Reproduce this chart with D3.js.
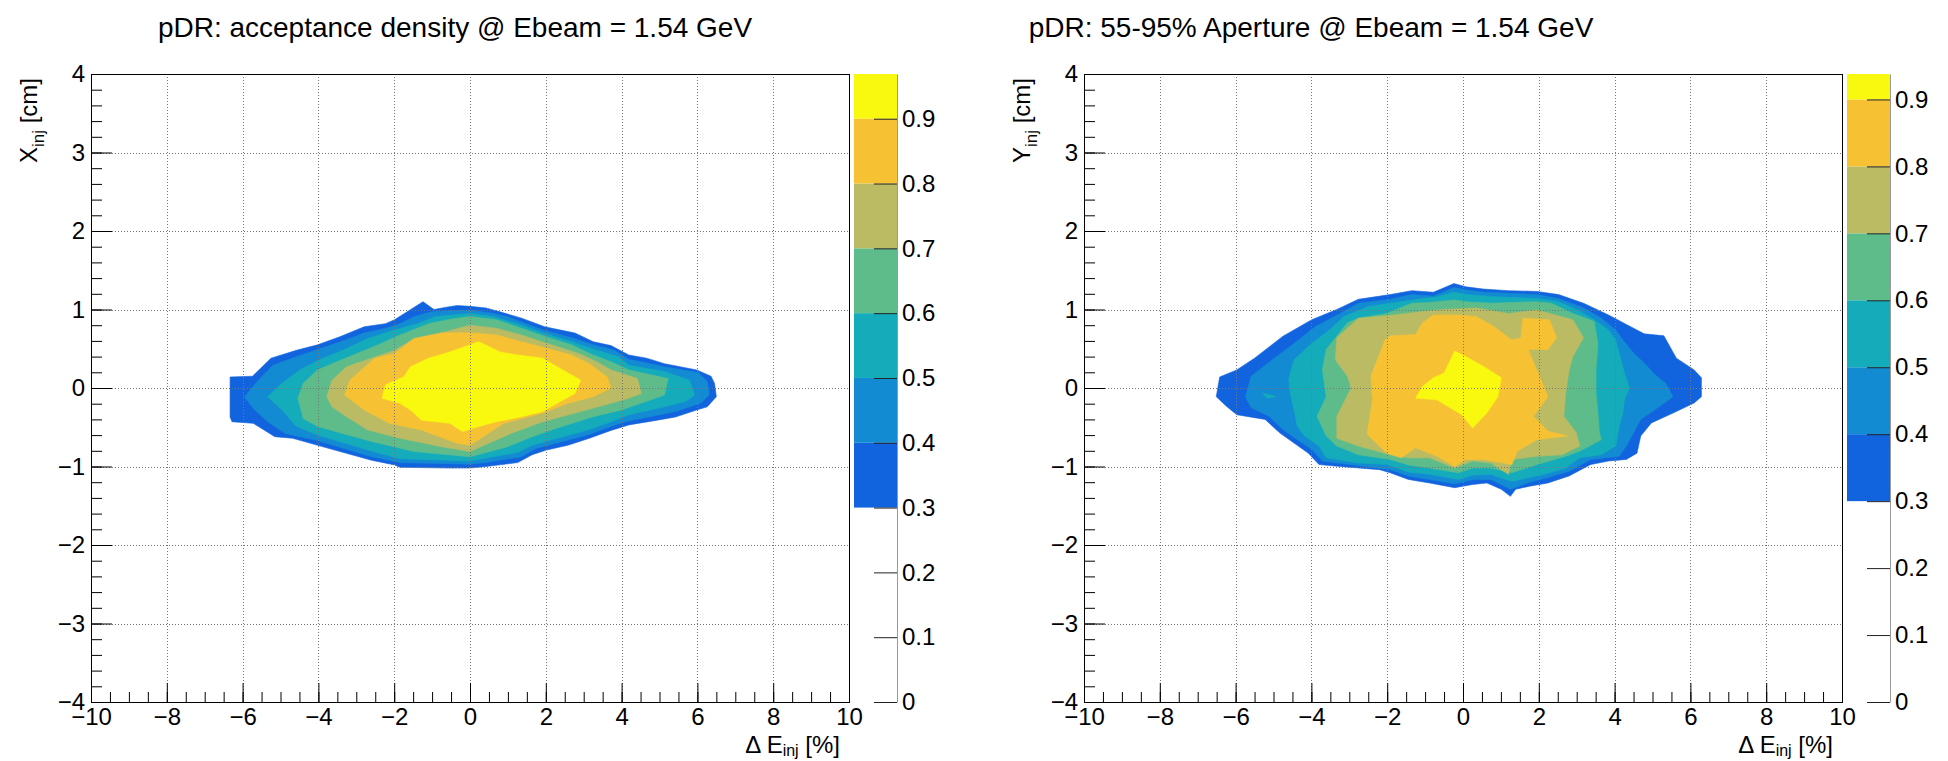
<!DOCTYPE html>
<html><head><meta charset="utf-8">
<script src="https://cdn.jsdelivr.net/npm/d3@7"></script>
<style>
body{margin:0;background:#fff;}
svg{display:block;font-family:"Liberation Sans",Arial,sans-serif;}
</style></head><body>
<svg id="c" width="1948" height="761"></svg>
<script>
// ---------- data ----------
const levels = [0.3, 0.4, 0.5, 0.6, 0.7, 0.8, 0.9];
const levelColors = ["#1163de", "#128bd2", "#14acba", "#5ebc8b", "#babb63", "#f6c234", "#f9f90f"];
const xTicks = [-10, -8, -6, -4, -2, 0, 2, 4, 6, 8, 10];
const yTicks = [-4, -3, -2, -1, 0, 1, 2, 3, 4];
const zTicks = [0, 0.1, 0.2, 0.3, 0.4, 0.5, 0.6, 0.7, 0.8, 0.9];
const zMaxAcc = 0.969;
const zMaxApe = 0.938;
const titles = ["pDR: acceptance density @ Ebeam = 1.54 GeV", "pDR: 55-95% Aperture @ Ebeam = 1.54 GeV"];
const yTitleMain = ["X", "Y"];

// contour outlines (Δ E [%], position [cm]) for each level, acceptance density
const accL03 = [[-6.33,0.14],[-5.74,0.15],[-5.25,0.38],[-4.58,0.48],[-4.02,0.55],[-3.45,0.65],[-2.79,0.78],[-2.23,0.82],[-1.99,0.87],[-1.66,0.97],[-1.24,1.10],[-0.95,1.00],[-0.62,1.03],[-0.34,1.05],[0,1.04],[0.42,1.02],[0.79,0.97],[1.36,0.89],[1.97,0.78],[2.77,0.70],[3.25,0.59],[3.72,0.54],[4.19,0.42],[4.66,0.38],[5.13,0.31],[5.98,0.23],[6.36,0.15],[6.45,0.06],[6.50,-0.11],[6.26,-0.24],[5.98,-0.28],[5.42,-0.37],[4.94,-0.41],[4.19,-0.47],[3.72,-0.54],[3.15,-0.64],[2.58,-0.73],[2.02,-0.79],[1.64,-0.85],[1.26,-0.95],[0.42,-1.0],[0,-1.02],[-0.53,-1.02],[-1.85,-1.01],[-1.99,-0.98],[-2.60,-0.92],[-4.02,-0.73],[-4.68,-0.64],[-5.15,-0.62],[-5.72,-0.45],[-6.28,-0.43],[-6.33,-0.37]];
const accL04 = [[-5.95,-0.11],[-5.62,0.08],[-5.20,0.29],[-4.63,0.39],[-4.02,0.49],[-3.41,0.59],[-2.79,0.70],[-2.23,0.76],[-1.85,0.82],[-1.47,0.91],[-1.0,0.97],[-0.53,0.985],[0,0.99],[0.51,0.96],[0.98,0.91],[1.92,0.74],[2.68,0.64],[3.25,0.55],[3.81,0.48],[4.19,0.365],[5.13,0.27],[6.03,0.195],[6.26,0.08],[6.31,-0.09],[6.08,-0.195],[5.42,-0.30],[4.75,-0.365],[4.09,-0.43],[3.72,-0.49],[3.15,-0.59],[2.30,-0.70],[1.74,-0.77],[1.36,-0.875],[0.42,-0.95],[0,-0.97],[-1.85,-0.95],[-2.60,-0.875],[-4.02,-0.67],[-4.87,-0.58],[-5.34,-0.43],[-5.72,-0.26]];
const accL05 = [[-5.34,-0.11],[-4.96,0.06],[-4.49,0.23],[-3.97,0.36],[-3.36,0.48],[-2.70,0.63],[-1.99,0.74],[-1.38,0.82],[-0.91,0.91],[0,0.95],[0.60,0.91],[1.36,0.80],[1.92,0.70],[2.68,0.59],[3.34,0.48],[3.91,0.40],[4.19,0.29],[5.13,0.21],[5.79,0.10],[5.93,-0.09],[5.70,-0.17],[5.13,-0.24],[4.19,-0.34],[3.72,-0.43],[3.15,-0.53],[2.30,-0.64],[1.64,-0.73],[1.26,-0.82],[0,-0.93],[-1.85,-0.90],[-2.70,-0.79],[-4.02,-0.60],[-4.58,-0.49],[-4.96,-0.28]];
const accL06 = [[-4.54,-0.13],[-4.40,0.06],[-4.02,0.23],[-3.64,0.31],[-3.08,0.42],[-2.42,0.55],[-1.85,0.675],[-1.09,0.82],[-0.53,0.875],[0,0.91],[0.70,0.87],[1.36,0.76],[2.02,0.65],[2.68,0.55],[3.25,0.42],[3.72,0.335],[4.19,0.23],[5.23,0.12],[5.13,-0.09],[4.66,-0.17],[4.0,-0.28],[3.25,-0.365],[2.30,-0.51],[1.64,-0.62],[0.98,-0.75],[0,-0.875],[-1.47,-0.81],[-2.60,-0.68],[-3.36,-0.58],[-4.02,-0.49],[-4.40,-0.39]];
const accL07 = [[-3.78,-0.11],[-3.64,0.10],[-3.26,0.27],[-2.60,0.38],[-1.99,0.48],[-1.47,0.63],[-0.62,0.72],[0,0.80],[0.70,0.76],[1.36,0.675],[2.02,0.57],[2.87,0.44],[3.34,0.335],[3.72,0.23],[4.42,0.12],[4.52,-0.07],[4.19,-0.13],[3.53,-0.22],[2.77,-0.32],[1.92,-0.43],[1.08,-0.58],[0,-0.81],[-0.72,-0.75],[-1.85,-0.64],[-2.70,-0.535],[-3.26,-0.365],[-3.64,-0.24]];
const accL08 = [[-3.31,-0.09],[-3.17,0.10],[-2.51,0.38],[-1.99,0.44],[-1.47,0.63],[-0.72,0.70],[0,0.705],[0.70,0.675],[1.36,0.59],[2.02,0.505],[2.68,0.42],[3.15,0.31],[3.62,0.14],[3.72,0.0],[3.25,-0.11],[2.58,-0.195],[1.92,-0.32],[0.89,-0.45],[0,-0.73],[-0.34,-0.705],[-1.28,-0.535],[-2.13,-0.45],[-2.79,-0.28]];
const accL09 = [[-2.32,-0.13],[-2.23,0.04],[-1.75,0.14],[-1.57,0.27],[-1.09,0.38],[-0.53,0.46],[0,0.55],[0.23,0.59],[0.79,0.46],[1.26,0.42],[1.92,0.38],[2.30,0.27],[2.92,0.10],[2.77,-0.07],[2.30,-0.195],[1.92,-0.30],[1.36,-0.365],[0.70,-0.43],[0.23,-0.49],[-0.20,-0.555],[-0.53,-0.45],[-1.28,-0.41],[-1.57,-0.28],[-1.85,-0.195]];

// contour outlines for each level, 55-95% aperture
const apeL03 = [[-6.51,-0.11],[-6.42,0.14],[-5.97,0.23],[-5.50,0.38],[-4.75,0.66],[-3.99,0.87],[-3.33,1.0],[-2.76,1.13],[-1.92,1.19],[-1.35,1.24],[-0.78,1.22],[-0.24,1.33],[0.07,1.29],[0.54,1.26],[1.20,1.24],[1.95,1.23],[2.52,1.19],[3.18,1.08],[3.84,0.93],[4.31,0.81],[4.78,0.69],[5.30,0.665],[5.63,0.38],[6.10,0.23],[6.29,0.13],[6.29,-0.11],[6.10,-0.19],[5.54,-0.32],[4.97,-0.445],[4.69,-0.61],[4.59,-0.83],[4.31,-0.91],[3.84,-0.93],[3.37,-0.975],[2.80,-1.12],[2.24,-1.21],[1.76,-1.25],[1.39,-1.29],[1.25,-1.38],[1.01,-1.29],[0.63,-1.21],[0.25,-1.23],[-0.22,-1.27],[-0.88,-1.21],[-1.44,-1.165],[-1.92,-1.08],[-2.20,-1.04],[-3.24,-1.0],[-3.80,-0.975],[-4.08,-0.83],[-4.46,-0.70],[-4.84,-0.57],[-5.22,-0.40],[-5.97,-0.34],[-6.25,-0.23]];
const apeL04 = [[-5.74,-0.11],[-5.59,0.15],[-5.03,0.36],[-4.56,0.53],[-3.90,0.78],[-3.24,0.95],[-2.76,1.08],[-1.92,1.13],[-1.35,1.19],[-0.78,1.17],[-0.24,1.28],[0.07,1.25],[0.54,1.22],[1.95,1.19],[2.52,1.14],[3.18,1.02],[3.65,0.89],[4.03,0.74],[4.22,0.61],[4.50,0.445],[4.78,0.32],[5.07,0.17],[5.35,0.06],[5.54,-0.11],[5.07,-0.275],[4.69,-0.40],[4.50,-0.57],[4.31,-0.74],[4.12,-0.87],[3.37,-0.91],[2.80,-1.06],[2.24,-1.14],[1.76,-1.20],[1.25,-1.29],[0.73,-1.165],[0.25,-1.17],[-0.22,-1.22],[-0.88,-1.165],[-1.44,-1.12],[-1.92,-1.04],[-3.24,-0.96],[-3.71,-0.93],[-3.99,-0.78],[-4.37,-0.66],[-4.75,-0.53],[-5.12,-0.36],[-5.59,-0.25]];
const apeL05 = [[-4.60,0.105],[-4.46,0.36],[-3.99,0.57],[-3.52,0.74],[-3.14,0.91],[-2.48,1.04],[-1.92,1.08],[-1.35,1.12],[-0.69,1.16],[-0.24,1.22],[0.07,1.19],[0.73,1.165],[1.95,1.14],[2.52,1.10],[2.99,1.0],[3.46,0.87],[3.84,0.74],[4.03,0.61],[4.12,0.445],[4.26,0.19],[4.39,0.0],[4.26,-0.15],[4.22,-0.32],[4.12,-0.49],[4.03,-0.74],[3.65,-0.85],[3.08,-0.89],[2.71,-1.02],[2.14,-1.10],[1.29,-1.19],[0.73,-1.10],[0.25,-1.11],[-0.12,-1.165],[-0.88,-1.10],[-1.44,-1.07],[-2.01,-0.975],[-2.76,-0.955],[-3.61,-0.89],[-3.80,-0.74],[-4.18,-0.61],[-4.37,-0.49],[-4.46,-0.275],[-4.56,-0.065]];
const apeL05b = [[-5.29,-0.065],[-4.93,-0.11],[-5.17,-0.13]];
const apeL06 = [[-3.71,0.23],[-3.61,0.49],[-3.33,0.66],[-3.05,0.83],[-2.76,0.89],[-2.01,0.95],[-1.35,1.08],[-0.88,1.09],[-0.24,1.12],[0.07,1.10],[0.73,1.08],[1.95,1.10],[2.33,1.08],[2.90,0.95],[3.46,0.85],[3.56,0.57],[3.51,0.23],[3.51,-0.065],[3.56,-0.32],[3.60,-0.57],[3.65,-0.66],[3.08,-0.805],[2.71,-0.87],[1.95,-0.975],[1.29,-1.08],[0.73,-1.02],[0.25,-1.02],[-0.12,-1.08],[-0.88,-1.02],[-1.44,-0.98],[-1.92,-0.91],[-2.76,-0.85],[-3.33,-0.74],[-3.61,-0.61],[-3.85,-0.36],[-3.61,-0.11]];
const apeL07 = [[-3.33,0.64],[-2.76,0.89],[-2.01,0.92],[-1.07,0.975],[-0.50,1.0],[0.35,1.02],[1.20,0.95],[1.95,0.995],[2.90,0.87],[3.18,0.64],[2.90,0.40],[2.80,0.23],[2.71,-0.065],[2.66,-0.36],[2.99,-0.57],[3.08,-0.74],[2.61,-0.85],[1.95,-0.87],[1.29,-0.91],[1.20,-1.10],[0.73,-0.955],[0.25,-0.93],[-0.22,-1.02],[-0.88,-0.89],[-1.44,-0.89],[-1.92,-0.85],[-2.76,-0.74],[-3.33,-0.64],[-3.33,-0.36],[-2.95,0.0],[-3.05,0.15],[-3.37,0.36]];
const apeL08 = [[-2.06,0.61],[-2.43,0.15],[-2.39,-0.15],[-2.53,-0.59],[-2.01,-0.83],[-1.63,-0.89],[-1.25,-0.76],[-0.69,-0.87],[-0.22,-1.0],[0.07,-0.91],[0.54,-0.91],[1.29,-0.975],[1.43,-0.805],[1.95,-0.66],[2.75,-0.61],[2.24,-0.55],[1.86,-0.36],[2.24,-0.11],[1.95,0.23],[1.72,0.49],[2.24,0.49],[2.47,0.64],[2.28,0.87],[1.58,0.89],[1.53,0.64],[1.29,0.61],[0.82,0.78],[0.35,0.91],[-0.12,0.93],[-0.78,0.93],[-1.07,0.83],[-1.25,0.68],[-1.92,0.665]];
const apeL09 = [[-0.22,0.47],[0.07,0.40],[0.54,0.275],[1.01,0.13],[0.92,-0.11],[0.63,-0.32],[0.25,-0.51],[-0.03,-0.34],[-0.69,-0.15],[-1.25,-0.13],[-1.07,0.02],[-0.78,0.13],[-0.50,0.19]];

const accContours = [[accL03], [accL04], [accL05], [accL06], [accL07], [accL08], [accL09]];
const apeContours = [[apeL03], [apeL04], [apeL05, apeL05b], [apeL06], [apeL07], [apeL08], [apeL09]];

// ---------- drawing ----------
const svg = d3.select("#c");
const fmtAxis = d => d < 0 ? "\u2212" + Math.abs(d) : String(d);
const fmtZ = d => d === 0 ? "0" : d.toFixed(1);

const panels = [
  {left: 91, right: 849, cbL: 854, cbR: 897, titleX: 455, yTitleX: 37, contours: accContours, zMax: zMaxAcc, title: titles[0], yMain: yTitleMain[0]},
  {left: 1084, right: 1842, cbL: 1847, cbR: 1890, titleX: 1311, yTitleX: 1030, contours: apeContours, zMax: zMaxApe, title: titles[1], yMain: yTitleMain[1]}
];
const frameTop = 74, frameBottom = 702;

panels.forEach(p => {
  const x = d3.scaleLinear().domain([-10, 10]).range([p.left, p.right]);
  const y = d3.scaleLinear().domain([-4, 4]).range([frameBottom, frameTop]);
  const z = d3.scaleLinear().domain([0, p.zMax]).range([frameBottom, frameTop]);
  const g = svg.append("g");

  // contours
  const line = d3.line().x(d => x(d[0])).y(d => y(d[1])).curve(d3.curveLinearClosed);
  p.contours.forEach((polys, i) => {
    polys.forEach(poly => {
      g.append("path").attr("d", line(poly)).attr("fill", levelColors[i])
        .attr("stroke", levelColors[i]).attr("stroke-width", 0.6);
    });
  });

  // grid
  const grid = g.append("g").attr("stroke", "#777").attr("stroke-width", 1).attr("stroke-dasharray", "1,2");
  xTicks.filter(t => t > -10 && t < 10).forEach(t => {
    grid.append("line").attr("x1", Math.round(x(t)) + 0.5).attr("x2", Math.round(x(t)) + 0.5).attr("y1", frameTop).attr("y2", frameBottom);
  });
  yTicks.filter(t => t > -4 && t < 4).forEach(t => {
    grid.append("line").attr("y1", Math.round(y(t)) + 0.5).attr("y2", Math.round(y(t)) + 0.5).attr("x1", p.left).attr("x2", p.right);
  });

  // x axis minor + major
  const xa = g.append("g").attr("transform", `translate(0,${frameBottom})`);
  xa.append("g").call(d3.axisBottom(x).tickValues(d3.range(-10, 10.001, 0.5)).tickSize(-10).tickFormat(""));
  xa.append("g").call(d3.axisBottom(x).tickValues(xTicks).tickSize(-19).tickPadding(6).tickFormat(fmtAxis));
  // y axis
  const ya = g.append("g").attr("transform", `translate(${p.left},0)`);
  ya.append("g").call(d3.axisLeft(y).tickValues(d3.range(-4, 4.001, 0.2)).tickSize(-11).tickFormat(""));
  ya.append("g").call(d3.axisLeft(y).tickValues(yTicks).tickSize(-21).tickPadding(6).tickFormat(fmtAxis));
  g.selectAll(".domain").remove();
  g.selectAll(".tick line").attr("stroke", "#000");
  g.selectAll(".tick text").attr("font-size", 24).attr("font-family", "Liberation Sans, Arial, sans-serif").attr("fill", "#000");

  // frame
  g.append("rect").attr("x", p.left + 0.5).attr("y", frameTop + 0.5).attr("width", p.right - p.left).attr("height", frameBottom - frameTop)
    .attr("fill", "none").attr("stroke", "#000").attr("stroke-width", 1);

  // color bar
  const cb = svg.append("g");
  levels.forEach((lv, i) => {
    const hi = i < levels.length - 1 ? levels[i + 1] : p.zMax;
    cb.append("rect").attr("x", p.cbL).attr("width", p.cbR - p.cbL)
      .attr("y", z(hi)).attr("height", z(lv) - z(hi)).attr("fill", levelColors[i]);
  });
  const za = cb.append("g").attr("transform", `translate(${p.cbR},0)`)
    .call(d3.axisRight(z).tickValues(zTicks).tickSize(-23).tickSizeOuter(0).tickPadding(5).tickFormat(fmtZ));
  za.select(".domain").attr("stroke", "#999");
  za.selectAll(".tick line").attr("stroke", "#222");
  za.selectAll(".tick text").attr("font-size", 24).attr("fill", "#000").attr("font-family", "Liberation Sans, Arial, sans-serif");

  // titles
  svg.append("text").attr("x", p.titleX).attr("y", 37).attr("text-anchor", "middle")
    .attr("font-size", 28).text(p.title);

  const xt = svg.append("text").attr("x", p.right - 9).attr("y", 753).attr("text-anchor", "end").attr("font-size", 24);
  xt.append("tspan").text("\u0394 E");
  xt.append("tspan").attr("font-size", 16).attr("dy", 3).text("inj");
  xt.append("tspan").attr("dy", -3).text(" [%]");

  const yt = svg.append("text").attr("transform", `translate(${p.yTitleX},${frameTop + 4}) rotate(-90)`)
    .attr("text-anchor", "end").attr("font-size", 24);
  yt.append("tspan").text(p.yMain);
  yt.append("tspan").attr("font-size", 17).attr("dy", 7).text("inj");
  yt.append("tspan").attr("dy", -7).text(" [cm]");
});
</script>
</body></html>
